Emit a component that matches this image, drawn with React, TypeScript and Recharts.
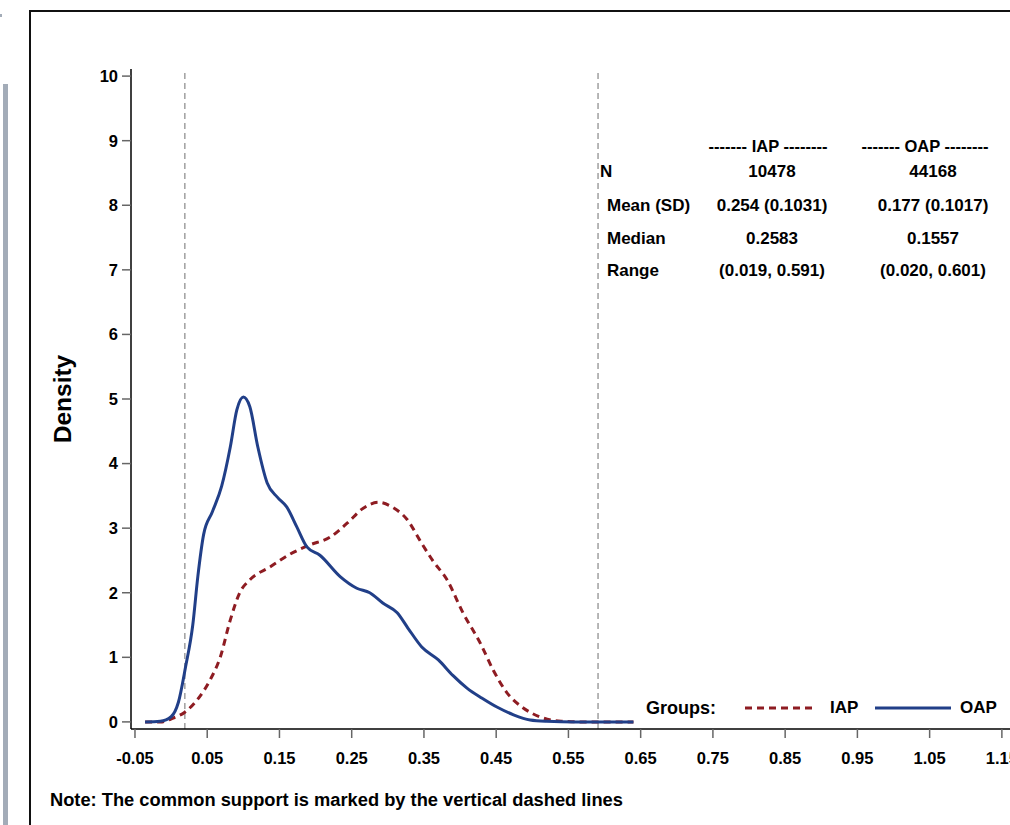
import React from 'react';
import { LineChart, Line, XAxis, YAxis, ReferenceLine } from 'recharts';

// density estimates (x = propensity score, y = density)
const IAP_X = [-0.036, -0.015, 0.003, 0.019, 0.036, 0.054, 0.068, 0.082, 0.095, 0.109, 0.137, 0.165, 0.192, 0.22, 0.244, 0.266, 0.287, 0.307, 0.327, 0.345, 0.362, 0.382, 0.404, 0.428, 0.446, 0.465, 0.487, 0.51, 0.54, 0.57, 0.64];
const IAP_Y = [0, 0, 0.06, 0.15, 0.34, 0.65, 1.0, 1.58, 2.0, 2.2, 2.4, 2.6, 2.74, 2.86, 3.08, 3.31, 3.4, 3.32, 3.13, 2.8, 2.5, 2.2, 1.69, 1.22, 0.8, 0.45, 0.22, 0.08, 0.01, 0, 0];

const OAP_X = [-0.036, -0.015, 0.0, 0.01, 0.02, 0.03, 0.037, 0.045, 0.057, 0.07, 0.082, 0.091, 0.1, 0.109, 0.12, 0.133, 0.147, 0.16, 0.174, 0.188, 0.206, 0.234, 0.257, 0.275, 0.293, 0.313, 0.328, 0.347, 0.37, 0.39, 0.41, 0.43, 0.451, 0.474, 0.497, 0.52, 0.56, 0.64];
const OAP_Y = [0, 0.01, 0.08, 0.3, 0.85, 1.5, 2.25, 2.9, 3.25, 3.65, 4.26, 4.83, 5.03, 4.88, 4.26, 3.7, 3.48, 3.33, 3.02, 2.71, 2.58, 2.25, 2.07, 2.0, 1.84, 1.69, 1.45, 1.16, 0.96, 0.72, 0.52, 0.37, 0.23, 0.11, 0.03, 0.01, 0, 0];

const X_TICKS = [-0.05, 0.05, 0.15, 0.25, 0.35, 0.45, 0.55, 0.65, 0.75, 0.85, 0.95, 1.05, 1.15];
const Y_TICKS = [0, 1, 2, 3, 4, 5, 6, 7, 8, 9, 10];
const SUPPORT = [0.019, 0.591];

const STAT_LABELS = ['N', 'Mean (SD)', 'Median', 'Range'];
const IAP_STATS = ['10478', '0.254 (0.1031)', '0.2583', '(0.019, 0.591)'];
const OAP_STATS = ['44168', '0.177 (0.1017)', '0.1557', '(0.020, 0.601)'];

const iapData = IAP_X.map((x, i) => ({ x, y: IAP_Y[i] }));
const oapData = OAP_X.map((x, i) => ({ x, y: OAP_Y[i] }));

const FONT = '"Liberation Sans", Arial, sans-serif';
const RED = '#8e1c22';
const BLUE = '#213f88';
const tickStyle = { fontSize: 16.5, fontWeight: 700, fill: '#000', fontFamily: FONT };

const txt = (left: number, top: number, s: string, align: 'left' | 'center' = 'left', key?: string, size = 17) => (
  <div
    key={key}
    style={{
      position: 'absolute',
      left: align === 'center' ? left - 90 : left,
      width: align === 'center' ? 180 : undefined,
      top: top - 11,
      height: 22,
      lineHeight: '22px',
      textAlign: align,
      whiteSpace: 'nowrap',
      fontFamily: FONT,
      fontWeight: 700,
      fontSize: size,
      color: '#000',
    }}
  >
    {s}
  </div>
);

const App = () => {
  const rowY = [172, 206, 239, 271];
  return (
    <div style={{ position: 'fixed', left: 0, top: 0, width: 1010, height: 825, overflow: 'hidden', background: '#fff' }}>
      <div style={{ position: 'absolute', left: 0, top: 14, width: 2, height: 3, background: '#a3acb8' }} />
      <div style={{ position: 'absolute', left: 3, top: 84, width: 5, height: 760, background: '#a3acb8' }} />
      <div style={{ position: 'absolute', left: 29, top: 10, width: 1200, height: 1000, border: '2px solid #111' }} />

      <div style={{ position: 'absolute', left: 0, top: 0 }}>
        <LineChart width={1038} height={825} margin={{ top: 69, right: 0, bottom: 0, left: 0 }}>
          <XAxis
            xAxisId="top"
            orientation="top"
            type="number"
            dataKey="x"
            domain={[-0.0555, 1.2]}
            height={0}
            tick={false}
            tickLine={false}
            axisLine={{ stroke: '#000', strokeWidth: 1.5 }}
          />
          <XAxis
            type="number"
            dataKey="x"
            domain={[-0.0555, 1.2]}
            ticks={X_TICKS}
            allowDataOverflow
            tickFormatter={(v: number) => v.toFixed(2)}
            height={96}
            tickSize={9}
            tickMargin={14}
            tick={tickStyle}
            tickLine={{ stroke: '#666', strokeWidth: 1.5 }}
            axisLine={{ stroke: '#000', strokeWidth: 1.5 }}
          />
          <YAxis
            type="number"
            domain={[-0.11, 10.11]}
            ticks={Y_TICKS}
            allowDataOverflow
            width={131}
            tickSize={9}
            tickMargin={4}
            tick={tickStyle}
            tickLine={{ stroke: '#666', strokeWidth: 1.5 }}
            axisLine={{ stroke: '#000', strokeWidth: 1.5 }}
            label={{ value: 'Density', angle: -90, position: 'center', dx: -3, style: { fontSize: 24.5, fontWeight: 700, fill: '#000', fontFamily: FONT } }}
          />
          {SUPPORT.map((s) => (
            <ReferenceLine key={s} x={s} stroke="#a0a0a0" strokeWidth={1.5} strokeDasharray="6 4" />
          ))}
          <Line
            data={iapData}
            dataKey="y"
            type="monotone"
            stroke={RED}
            strokeWidth={3}
            strokeDasharray="7 5"
            dot={false}
            isAnimationActive={false}
          />
          <Line
            data={oapData}
            dataKey="y"
            type="monotone"
            stroke={BLUE}
            strokeWidth={3}
            dot={false}
            isAnimationActive={false}
          />
        </LineChart>
      </div>

      {txt(768, 146, '------- IAP --------', 'center', undefined, 16.5)}
      {txt(925, 146, '------- OAP --------', 'center', undefined, 16.5)}
      {STAT_LABELS.map((l, i) => txt(i === 0 ? 600 : 607, rowY[i], l, 'left', 'l' + i))}
      {IAP_STATS.map((v, i) => txt(772, rowY[i], v, 'center', 'a' + i))}
      {OAP_STATS.map((v, i) => txt(933, rowY[i], v, 'center', 'b' + i))}

      {txt(646, 708, 'Groups:', 'left', undefined, 18)}
      <svg style={{ position: 'absolute', left: 745, top: 700 }} width={72} height={16}>
        <line x1={0} y1={8} x2={72} y2={8} stroke={RED} strokeWidth={3} strokeDasharray="7 5" />
      </svg>
      {txt(830, 708, 'IAP')}
      <svg style={{ position: 'absolute', left: 875, top: 700 }} width={76} height={16}>
        <line x1={0} y1={8} x2={76} y2={8} stroke={BLUE} strokeWidth={3} />
      </svg>
      {txt(960, 708, 'OAP')}

      {txt(50, 800, 'Note: The common support is marked by the vertical dashed lines', 'left', undefined, 18.3)}
    </div>
  );
};

export default App;
